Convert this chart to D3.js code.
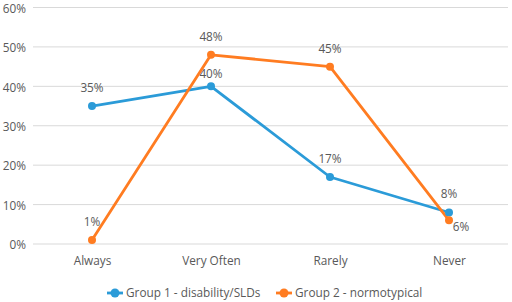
<!DOCTYPE html>
<html><head><meta charset="utf-8">
<script src="https://cdn.jsdelivr.net/npm/d3@7"></script>
<style>body{margin:0;background:#fff}svg{display:block}text{font-family:"Open Sans",sans-serif;fill:#595959}</style>
</head><body><svg id="c" width="512" height="302"></svg>
<script>
const categories = ["Always","Very Often","Rarely","Never"];
const group1 = [35,40,17,8];
const group2 = [1,48,45,6];
const yTicks = [0,10,20,30,40,50,60];
const seriesNames = ["Group 1 - disability/SLDs","Group 2 - normotypical"];
const colors = ["#2b9bd8","#ff7c21"];
const fs = 11.8;

const svg = d3.select("#c");
const x = d3.scalePoint().domain(categories).range([92,449]);
const y = d3.scaleLinear().domain([0,60]).range([244,7.5]);

svg.append("g").selectAll("line").data(yTicks).join("line")
  .attr("x1",33).attr("x2",508).attr("y1",d=>y(d)).attr("y2",d=>y(d))
  .attr("stroke","#d9d9d9").attr("stroke-width",1);

const yAxis = d3.axisLeft(y).tickValues(yTicks).tickFormat(d=>d+"%").tickSize(0).tickPadding(0);
const ya = svg.append("g").attr("transform","translate(26,0)").call(yAxis);
ya.select(".domain").remove();
ya.selectAll("text").attr("font-size",fs).attr("fill","#595959").attr("font-family","Open Sans").attr("dy","0.4em");

const xAxis = d3.axisBottom(x).tickSize(0).tickPadding(0);
const xa = svg.append("g").attr("transform","translate(0,257)").call(xAxis);
xa.select(".domain").remove();
xa.selectAll("text").attr("font-size",fs).attr("fill","#595959").attr("font-family","Open Sans").attr("dy","0.71em");

const series = [group1, group2];
const line = d3.line().x((d,i)=>x(categories[i])).y(d=>y(d));
series.forEach((s,k)=>{
  svg.append("path").datum(s).attr("d",line).attr("fill","none")
    .attr("stroke",colors[k]).attr("stroke-width",2.8).attr("stroke-linejoin","round");
});
series.forEach((s,k)=>{
  svg.append("g").selectAll("circle").data(s).join("circle")
    .attr("cx",(d,i)=>x(categories[i])).attr("cy",d=>y(d)).attr("r",4).attr("fill",colors[k]);
});

const labelOffsets = [
  [[0,-14],[0,-8],[0,-14],[0,-14]],
  [[0,-14],[0,-14],[0,-14],[12,11]]
];
series.forEach((s,k)=>{
  svg.append("g").selectAll("text").data(s).join("text")
    .attr("x",(d,i)=>x(categories[i])+labelOffsets[k][i][0])
    .attr("y",(d,i)=>y(d)+labelOffsets[k][i][1])
    .attr("text-anchor","middle").attr("font-size",fs)
    .text(d=>d+"%");
});

const legendX = [107,276];
seriesNames.forEach((n,k)=>{
  const g = svg.append("g").attr("transform",`translate(${legendX[k]},293)`);
  g.append("line").attr("x1",0).attr("x2",16).attr("stroke",colors[k]).attr("stroke-width",2.8);
  g.append("circle").attr("cx",8).attr("cy",0).attr("r",4.5).attr("fill",colors[k]);
  g.append("text").attr("x",19).attr("y",0).attr("dy","0.35em").attr("font-size",fs).text(n);
});
</script></body></html>
